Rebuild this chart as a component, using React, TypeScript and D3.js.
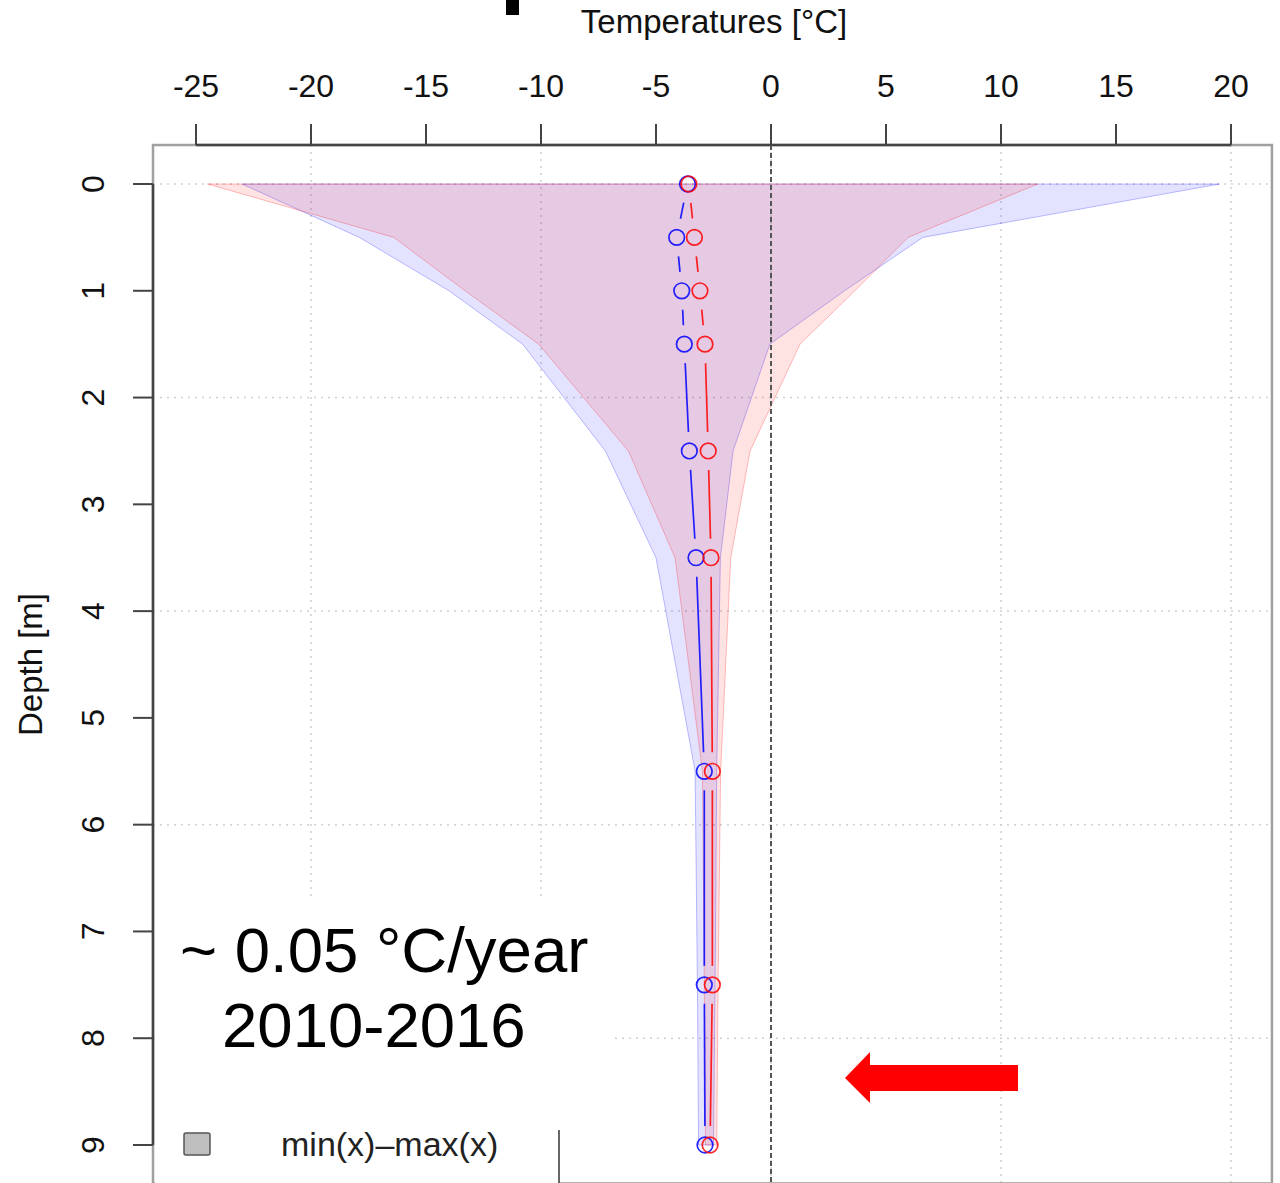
import React from "react";
import * as d3 from "d3";

// Depth levels of the temperature sensors [m]
const depths = [0, 0.5, 1, 1.5, 2.5, 3.5, 5.5, 7.5, 9];

// Mean temperature per depth [°C]
const blueMean = [-3.63, -4.1, -3.88, -3.77, -3.55, -3.26, -2.9, -2.9, -2.87];
const redMean = [-3.57, -3.33, -3.09, -2.87, -2.73, -2.61, -2.55, -2.55, -2.65];

// Envelope (min / max) per depth [°C]
const blueMin = [-23.0, -17.9, -14.0, -10.8, -7.2, -5.0, -3.3, -3.2, -3.15];
const blueMax = [19.5, 6.6, 3.2, -0.05, -1.65, -2.2, -2.36, -2.43, -2.5];
const redMin = [-24.5, -16.4, -13.3, -10.1, -6.2, -4.17, -2.98, -2.9, -2.85];
const redMax = [11.6, 5.96, 3.65, 1.26, -0.91, -1.75, -2.19, -2.3, -2.36];

// Axis ticks
const tempTicks = [-25, -20, -15, -10, -5, 0, 5, 10, 15, 20];
const depthTicks = [0, 1, 2, 3, 4, 5, 6, 7, 8, 9];
const tempGrid = [-20, -10, 0, 10, 20];
const depthGrid = [0, 2, 4, 6, 8];

const xLim: [number, number] = [-26.87, 21.78];
const yLim: [number, number] = [-0.365, 9.36];

const FONT = "'Liberation Sans', Arial, Helvetica, sans-serif";
const W = 1280;
const H = 1183;

export default function App() {
  const x = d3.scaleLinear().domain([-25, 20]).range([196, 1231]);
  const y = d3.scaleLinear().domain([0, 9]).range([184, 1145]);

  const left = x(xLim[0]);
  const right = x(xLim[1]);
  const top = y(yLim[0]);
  const bottom = y(yLim[1]);

  const band = (mins: number[], maxs: number[]) =>
    d3
      .area<number>()
      .y((d) => y(d))
      .x0((_, i) => x(mins[i]))
      .x1((_, i) => x(maxs[i]))
      .curve(d3.curveLinear)(depths) as string;

  // Connecting segments with gaps around the points (R type = "b")
  const gap = 19;
  const gappedSegments = (vals: number[]) => {
    const segs: { x1: number; y1: number; x2: number; y2: number }[] = [];
    for (let i = 0; i < vals.length - 1; i++) {
      const ax = x(vals[i]);
      const ay = y(depths[i]);
      const bx = x(vals[i + 1]);
      const by = y(depths[i + 1]);
      const len = Math.hypot(bx - ax, by - ay);
      if (len <= 2 * gap) continue;
      const ux = (bx - ax) / len;
      const uy = (by - ay) / len;
      segs.push({
        x1: ax + ux * gap,
        y1: ay + uy * gap,
        x2: bx - ux * gap,
        y2: by - uy * gap,
      });
    }
    return segs;
  };

  const series = [
    { key: "blue", vals: blueMean, color: "#0000ff" },
    { key: "red", vals: redMean, color: "#ff0000" },
  ];

  // Left-pointing arrow, tip at (tipX, tipY)
  const tipX = 845;
  const tipY = 1078;
  const arrow = [
    [tipX, tipY],
    [tipX + 25, tipY - 26],
    [tipX + 25, tipY - 13],
    [tipX + 173, tipY - 13],
    [tipX + 173, tipY + 13],
    [tipX + 25, tipY + 13],
    [tipX + 25, tipY + 25],
  ]
    .map((p) => p.join(","))
    .join(" ");

  return (
    <svg
      width={W}
      height={H}
      viewBox={`0 0 ${W} ${H}`}
      style={{ position: "absolute", left: 0, top: 0, background: "#fff" }}
      fontFamily={FONT}
    >
      <rect x={0} y={0} width={W} height={H} fill="#fff" />

      {/* fragment of a heading above the chart */}
      <rect x={506} y={0} width={13} height={15} fill="#000" />

      {/* title of the temperature axis */}
      <text x={714} y={33} fontSize={33} textAnchor="middle" fill="#111">
        Temperatures [°C]
      </text>

      {/* grid */}
      <g stroke="#d0d0d0" strokeWidth={1.5} strokeDasharray="2,5">
        {tempGrid.map((t) => (
          <line key={`gx${t}`} x1={x(t)} x2={x(t)} y1={top} y2={bottom} />
        ))}
        {depthGrid.map((d) => (
          <line key={`gy${d}`} x1={left} x2={right} y1={y(d)} y2={y(d)} />
        ))}
      </g>

      {/* min-max envelopes */}
      <path
        d={band(blueMin, blueMax)}
        fill="rgba(0,0,255,0.11)"
        stroke="rgba(0,0,255,0.25)"
        strokeWidth={1}
      />
      <path
        d={band(redMin, redMax)}
        fill="rgba(255,0,0,0.11)"
        stroke="rgba(255,0,0,0.25)"
        strokeWidth={1}
      />

      {/* zero line */}
      <line
        x1={x(0)}
        x2={x(0)}
        y1={top}
        y2={bottom}
        stroke="#555"
        strokeWidth={2}
        strokeDasharray="5,3"
      />

      {/* mean profiles */}
      {series.map((s) => (
        <g key={s.key} stroke={s.color} strokeOpacity={0.85} fill="none">
          {gappedSegments(s.vals).map((seg, i) => (
            <line key={i} {...seg} strokeWidth={1.7} />
          ))}
          {s.vals.map((v, i) => (
            <circle key={i} cx={x(v)} cy={y(depths[i])} r={7.8} strokeWidth={1.7} />
          ))}
        </g>
      ))}

      {/* plot frame */}
      <rect
        x={left}
        y={top}
        width={right - left}
        height={bottom - top}
        fill="none"
        stroke="#a0a0a0"
        strokeWidth={2.5}
      />

      {/* top axis */}
      <g stroke="#444" strokeWidth={2}>
        <line x1={x(-25)} x2={x(20)} y1={top} y2={top} strokeWidth={2.5} />
        {tempTicks.map((t) => (
          <line key={t} x1={x(t)} x2={x(t)} y1={top} y2={top - 21} />
        ))}
      </g>
      <g fontSize={32} textAnchor="middle" fill="#111">
        {tempTicks.map((t) => (
          <text key={t} x={x(t)} y={97}>
            {String(t)}
          </text>
        ))}
      </g>

      {/* left axis */}
      <g stroke="#444" strokeWidth={2}>
        <line x1={left} x2={left} y1={y(0)} y2={y(9)} strokeWidth={2.5} />
        {depthTicks.map((d) => (
          <line key={d} x1={left} x2={left - 20} y1={y(d)} y2={y(d)} />
        ))}
      </g>
      <g fontSize={32} textAnchor="middle" fill="#111">
        {depthTicks.map((d) => (
          <text key={d} transform={`translate(104,${y(d)}) rotate(-90)`}>
            {String(d)}
          </text>
        ))}
      </g>
      <text
        transform={`translate(42,${y(4.5)}) rotate(-90)`}
        fontSize={33}
        textAnchor="middle"
        fill="#111"
      >
        Depth [m]
      </text>

      {/* legend */}
      <rect x={left + 2} y={1128} width={559 - left - 2} height={bottom - 1128} fill="#fff" />
      <line x1={559} x2={559} y1={1130} y2={bottom} stroke="#666" strokeWidth={2} />
      <rect x={184} y={1133} width={26} height={22} rx={2} fill="#bebebe" stroke="#555" strokeWidth={1.5} />
      <text x={281} y={1156} fontSize={34} fill="#222">
        min(x)–max(x)
      </text>

      {/* trend note */}
      <rect x={left + 2} y={897} width={615 - left - 2} height={1129 - 897} fill="#fff" />
      <text x={180} y={972} fontSize={63.5} fill="#000">
        ~ 0.05 °C/year
      </text>
      <text x={222} y={1047} fontSize={63.5} fill="#000">
        2010-2016
      </text>

      {/* arrow */}
      <polygon points={arrow} fill="#ff0000" />
    </svg>
  );
}
